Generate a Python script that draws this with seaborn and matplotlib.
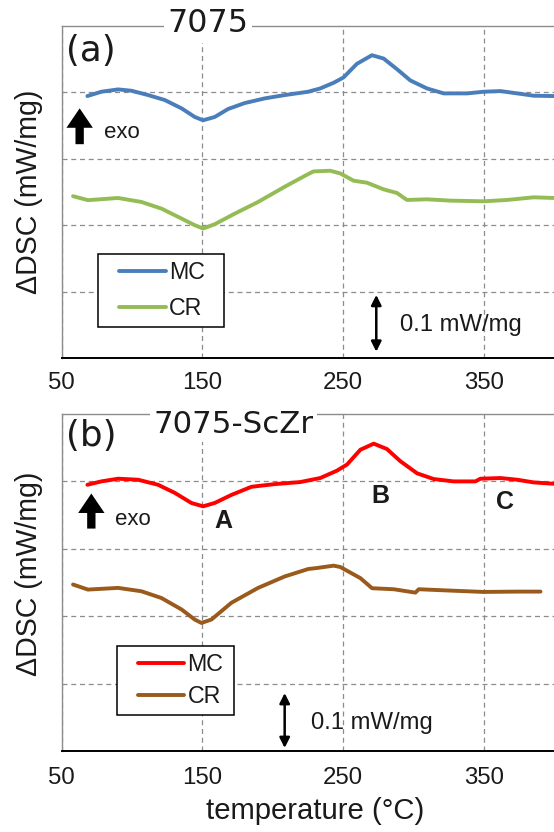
import matplotlib
matplotlib.use("Agg")
import matplotlib.pyplot as plt
import seaborn as sns
import pandas as pd
from matplotlib.legend_handler import HandlerLine2D
from matplotlib.lines import Line2D

# ---------------- data ----------------
# panel (a) 7075
a_mc_T = [68.4, 78.3, 90.2, 99.7, 111.5, 123.4, 135.3, 144.7, 150.6, 158.9, 168.4, 180.3, 194.5, 208.7,
          225.3, 233.9, 243.4, 250.4, 259.9, 270.6, 278.9, 288.4, 297.9, 309.7, 321.6, 338.2, 350.1,
          361.9, 373.8, 385.6, 399.8]
a_mc_y = [3.945, 4.01, 4.045, 4.025, 3.96, 3.885, 3.76, 3.63, 3.58, 3.63, 3.75, 3.84, 3.91, 3.96,
          4.01, 4.06, 4.145, 4.225, 4.43, 4.56, 4.51, 4.35, 4.18, 4.06, 3.985, 3.985, 4.01,
          4.02, 3.985, 3.95, 3.945]
a_cr_T = [58.2, 68.8, 90.2, 106.8, 121.0, 135.3, 144.7, 150.6, 158.9, 173.2, 189.7, 208.7, 225.3,
          229.1, 240.9, 248.1, 257.6, 267.1, 278.9, 288.4, 295.5, 309.7, 326.3, 350.1, 366.6, 385.6, 399.8]
a_cr_y = [2.437, 2.377, 2.41, 2.35, 2.25, 2.10, 2.0, 1.95, 2.015, 2.175, 2.35, 2.58, 2.77,
          2.81, 2.82, 2.78, 2.67, 2.64, 2.54, 2.485, 2.38, 2.39, 2.37, 2.36, 2.38, 2.42, 2.41]
# panel (b) 7075-ScZr
b_mc_T = [68.4, 78.3, 90.2, 104.4, 118.6, 130.5, 142.3, 150.6, 158.9, 170.8, 185.0, 201.6, 219.6,
          233.9, 245.8, 252.9, 262.4, 271.9, 281.3, 290.8, 302.7, 314.5, 328.7, 344.1, 347.7, 361.9,
          373.8, 385.6, 399.8]
b_mc_y = [3.95, 4.0, 4.04, 4.025, 3.95, 3.83, 3.68, 3.63, 3.68, 3.80, 3.92, 3.96, 3.99,
          4.05, 4.16, 4.25, 4.47, 4.56, 4.48, 4.30, 4.12, 4.035, 4.0, 4.0, 4.04, 4.05,
          4.025, 3.985, 3.965]
b_cr_T = [58.2, 68.8, 90.2, 106.8, 121.0, 135.3, 144.7, 149.4, 156.5, 170.8, 189.7, 208.7, 225.3,
          231.5, 243.4, 248.1, 262.4, 270.7, 286.1, 301.5, 303.9, 326.3, 350.1, 373.8, 390.4]
b_cr_y = [2.47, 2.395, 2.42, 2.37, 2.27, 2.10, 1.95, 1.90, 1.95, 2.20, 2.42, 2.59, 2.70,
          2.715, 2.75, 2.73, 2.565, 2.415, 2.40, 2.35, 2.40, 2.38, 2.36, 2.365, 2.365]

series_labels = ["MC", "CR"]
panel_titles = ["7075", "7075-ScZr"]
panel_tags = ["(a)", "(b)"]
peak_labels = ["A", "B", "C"]
peak_T = [164.9, 276.5, 365.4]
peak_y = [3.41, 3.79, 3.70]
xticks = [50, 150, 250, 350]
scale_text = "0.1 mW/mg"
exo_text = "exo"
ylabel_text = "ΔDSC (mW/mg)"
xlabel_text = "temperature (°C)"

colors_a = ["#4A7EBB", "#94BC55"]
colors_b = ["#FF0000", "#9A5A1C"]

# ---------------- figure ----------------
sns.set_style("white")
plt.rcParams["font.family"] = ["Liberation Sans", "DejaVu Sans"]
text_col = "#1a1a1a"

fig = plt.figure(figsize=(5.54, 8.32), dpi=100)
renderer = fig.canvas.get_renderer()


def fit_size(s, target_px, **kw):
    """font size (pt) giving a rendered width of target_px pixels"""
    t = fig.text(0, 0, s, fontsize=10, **kw)
    w = t.get_window_extent(renderer).width
    t.remove()
    return 10.0 * target_px / w


fs_tick = fit_size("150", 40)
fs_ylab = fit_size(ylabel_text, 205)
fs_xlab = fit_size(xlabel_text, 219)
fs_title_a = fit_size(panel_titles[0], 80, family=["DejaVu Sans"])
fs_title_b = fit_size(panel_titles[1], 159, family=["DejaVu Sans"])
fs_tag = fit_size(panel_tags[0], 50, family=["DejaVu Sans"])
fs_leg = fit_size("MC", 36)
fs_scale = fit_size(scale_text, 122)
fs_exo = fit_size(exo_text, 36)
fs_peak = fit_size("B", 18, fontweight="bold")

L = 61.5 / 554
W = 492.5 / 554
ax_a = fig.add_axes([L, 1 - 358 / 832, W, 332 / 832])
ax_b = fig.add_axes([L, 1 - 751 / 832, W, 337 / 832])

df_a = pd.concat([
    pd.DataFrame({"T": a_mc_T, "y": a_mc_y, "s": "MC"}),
    pd.DataFrame({"T": a_cr_T, "y": a_cr_y, "s": "CR"}),
])
df_b = pd.concat([
    pd.DataFrame({"T": b_mc_T, "y": b_mc_y, "s": "MC"}),
    pd.DataFrame({"T": b_cr_T, "y": b_cr_y, "s": "CR"}),
])

panels = [
    dict(ax=ax_a, df=df_a, cols=colors_a, title=panel_titles[0], tag=panel_tags[0], tfs=fs_title_a,
         tpos=(0.298, 1.0075), tagy=0.925, leg=(0.0747, 0.312, 0.256), ls=0.55,
         ylab=(-0.0376, 0.5015), tickpad=4.5),
    dict(ax=ax_b, df=df_b, cols=colors_b, title=panel_titles[1], tag=panel_tags[1], tfs=fs_title_b,
         tpos=(0.35, 0.969), tagy=0.935, leg=(0.112, 0.3125, 0.239), ls=0.42,
         ylab=(-0.0376, 0.527), tickpad=5.9),
]

for p in panels:
    ax = p["ax"]
    sns.lineplot(data=p["df"], x="T", y="y", hue="s", hue_order=series_labels,
                 palette=p["cols"], linewidth=2.8, sort=False, estimator=None, ax=ax, legend=False)
    ax.set_xlim(50, 400)
    ax.set_ylim(0, 5)
    ax.set_xticks(xticks)
    ax.set_xticklabels([str(t) for t in xticks], fontsize=fs_tick, color=text_col)
    ax.set_yticks([1, 2, 3, 4])
    ax.set_yticklabels([])
    ax.tick_params(axis="y", length=0)
    ax.tick_params(axis="x", length=5.8, width=1.1, color="black", direction="out", pad=p["tickpad"])
    ax.grid(True, color="#8c8c8c", linestyle=(0, (4, 3)), linewidth=0.9)
    for s in ["left", "top"]:
        ax.spines[s].set_color("#8c8c8c")
        ax.spines[s].set_linewidth(1.0)
    ax.spines["bottom"].set_color("black")
    ax.spines["bottom"].set_linewidth(1.4)
    ax.spines["right"].set_visible(False)
    ax.set_xlabel("")
    ax.set_ylabel(ylabel_text, fontsize=fs_ylab, color=text_col)
    ax.yaxis.set_label_coords(*p["ylab"])
    ax.text(p["tpos"][0], p["tpos"][1], p["title"], transform=ax.transAxes, ha="center", va="center",
            fontsize=p["tfs"], color=text_col, family=["DejaVu Sans"],
            bbox=dict(facecolor="white", edgecolor="none", pad=2.5), zorder=5, clip_on=False)
    ax.text(0.06, p["tagy"], p["tag"], transform=ax.transAxes, ha="center", va="center",
            fontsize=fs_tag, color=text_col, family=["DejaVu Sans"])
    handles = [Line2D([], [], color=c, linewidth=2.8) for c in p["cols"]]
    lx, ly, lw = p["leg"]
    leg = ax.legend(handles, series_labels, loc="upper left",
                    bbox_to_anchor=(lx, ly - 0.3, lw, 0.3), mode="expand",
                    borderaxespad=0, fontsize=fs_leg, frameon=True, fancybox=False,
                    edgecolor="black", framealpha=1, handlelength=2.6, handletextpad=0.15,
                    borderpad=0.3, labelspacing=p["ls"],
                    handler_map={Line2D: HandlerLine2D(xpad=0.6)})
    leg.get_frame().set_linewidth(1.1)
    for t in leg.get_texts():
        t.set_color(text_col)

# exo arrows and text
for ax, ax_x, y0, y1, tx, ty in [(ax_a, 62.9, 3.22, 3.76, 80.2, 3.39),
                                  (ax_b, 71.2, 3.30, 3.82, 87.8, 3.43)]:
    ax.annotate("", xy=(ax_x, y1), xytext=(ax_x, y0),
                arrowprops=dict(arrowstyle="simple,head_width=0.95,head_length=0.7,tail_width=0.3",
                                mutation_scale=20, color="black", shrinkA=0, shrinkB=0, lw=0))
    ax.text(tx, ty, exo_text, fontsize=fs_exo, color=text_col, ha="left", va="center")

# scale double arrows
for ax, sx, y0, y1, tx, ty in [(ax_a, 273.7, 0.095, 0.95, 290.3, 0.5),
                                (ax_b, 208.6, 0.045, 0.86, 227.5, 0.415)]:
    ax.annotate("", xy=(sx, y1), xytext=(sx, y0),
                arrowprops=dict(arrowstyle="<|-|>,head_width=0.3,head_length=0.6",
                                lw=1.8, color="black", shrinkA=0, shrinkB=0))
    ax.text(tx, ty, scale_text, fontsize=fs_scale, color=text_col, ha="left", va="center")

# peak labels in panel b
for lab, px, py in zip(peak_labels, peak_T, peak_y):
    ax_b.text(px, py, lab, fontsize=fs_peak, fontweight="bold", color=text_col,
              ha="center", va="center")

ax_b.set_xlabel(xlabel_text, fontsize=fs_xlab, color=text_col)
ax_b.xaxis.set_label_coords(0.5147, -0.1356)

fig.savefig("out.png", dpi=100)
